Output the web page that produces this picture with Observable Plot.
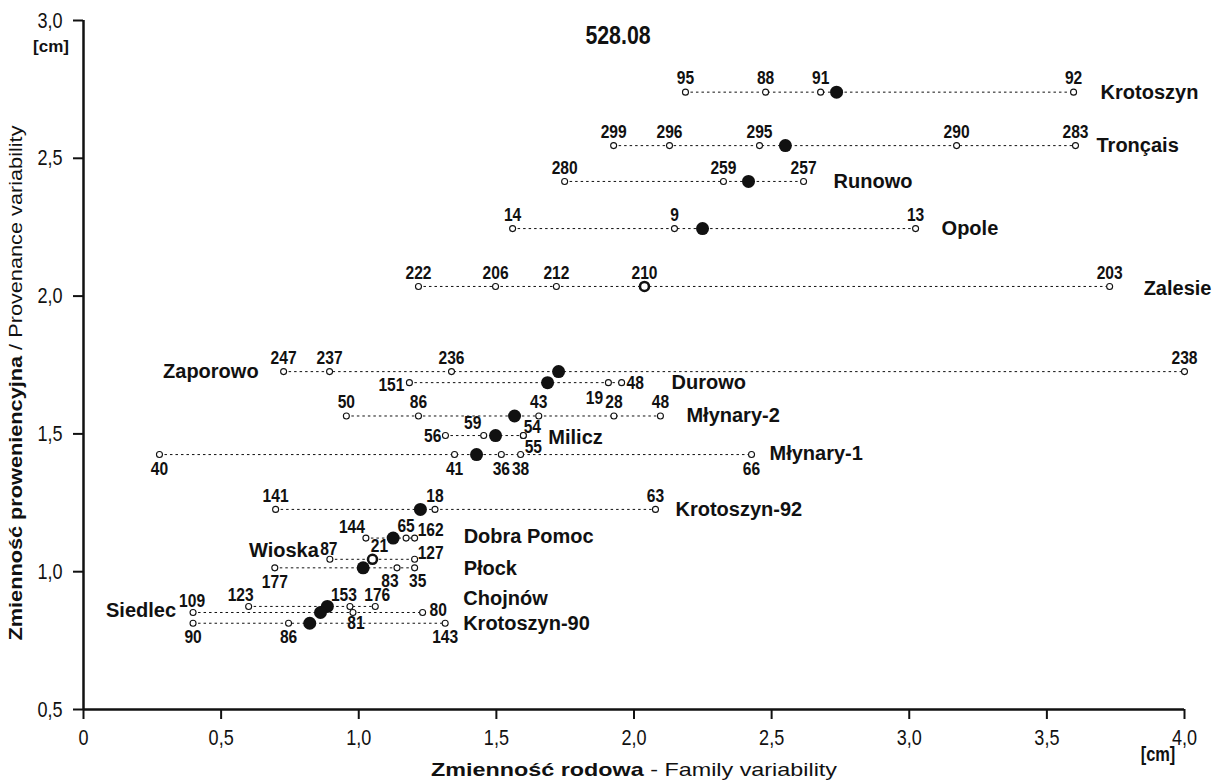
<!DOCTYPE html>
<html>
<head>
<meta charset="utf-8">
<script src="https://cdn.jsdelivr.net/npm/d3@7"></script>
<script src="https://cdn.jsdelivr.net/npm/@observablehq/plot@0.6"></script>
<style>
  html, body { margin: 0; padding: 0; background: #fff; }
</style>
</head>
<body>
<div id="chart"></div>
<script>
// ---------- data ----------
const populations = ["Krotoszyn","Tronçais","Runowo","Opole","Zalesie","Zaporowo","Durowo","Młynary-2","Milicz","Młynary-1","Krotoszyn-92","Dobra Pomoc","Wioska","Płock","Chojnów","Siedlec","Krotoszyn-90"];
const provenanceMean = [2.74,2.546,2.416,2.245,2.035,1.726,1.686,1.565,1.494,1.425,1.226,1.122,1.045,1.014,0.874,0.852,0.813];
const familyMean = [2.736,2.55,2.416,2.249,2.038,1.726,1.686,1.566,1.497,1.428,1.224,1.125,1.05,1.016,0.886,0.861,0.822];
const familyIds = [
  [95,88,91,92],[299,296,295,290,283],[280,259,257],[14,9,13],[222,206,212,210,203],
  [247,237,236,238],[151,19,48],[50,86,43,28,48],[56,59,54,55],[40,41,36,38,66],
  [141,18,63],[144,65,162],[87,21,127],[177,83,35],[123,153,176],[109,81,80],[90,86,143]
];
const familyValues = [
  [2.187,2.478,2.678,3.597],[1.926,2.129,2.456,3.172,3.604],[1.748,2.325,2.616],[1.559,2.147,3.023],[1.217,1.497,1.718,2.038,3.728],
  [0.727,0.894,1.337,4.0],[1.184,1.907,1.955],[0.955,1.217,1.654,1.927,2.096],[1.315,1.454,1.598,1.598],[0.276,1.348,1.518,1.588,2.427],
  [0.698,1.277,2.078],[1.026,1.172,1.203],[0.895,1.05,1.203],[0.695,1.139,1.203],[0.6,0.968,1.06],[0.398,0.979,1.232],[0.398,0.745,1.314]
];
const xTicks = [0,0.5,1,1.5,2,2.5,3,3.5,4];
const yTicks = [0.5,1,1.5,2,2.5,3];
const chartTitle = "528.08";

// ---------- layout (label placement, px) ----------
const popLabelPos = {
  "Krotoszyn":["right",27,0], "Tronçais":["right",21,0], "Runowo":["right",30,0], "Opole":["right",26,0],
  "Zalesie":["right",34,2], "Zaporowo":["left",-25,0], "Durowo":["right",50,0], "Młynary-2":["right",26,0],
  "Milicz":["right",25,2], "Młynary-1":["right",18,-1], "Krotoszyn-92":["right",20,0], "Dobra Pomoc":["right",49,-1],
  "Wioska":["left",-11,-9], "Płock":["right",49,1], "Chojnów":["right",88,-8], "Siedlec":["left",-17,-2],
  "Krotoszyn-90":["right",18,0]
};
const BELOW = [0,14,"middle"];
const famLabelPos = {
  "Durowo:151":[-5,2,"end"], "Durowo:19":[-14,15,"middle"], "Durowo:48":[5,0,"start"],
  "Milicz:56":[-4,0,"end"], "Milicz:59":[-11,-13,"middle"], "Milicz:54":[9,-9,"middle"], "Milicz:55":[10,11,"middle"],
  "Dobra Pomoc:144":[-14,-11,"middle"], "Dobra Pomoc:65":[0,-12,"middle"], "Dobra Pomoc:162":[3,-8,"start"],
  "Wioska:87":[-1,-10,"middle"], "Wioska:21":[7,-13,"middle"], "Wioska:127":[3,-6,"start"],
  "Płock:177":BELOW, "Płock:83":[-7,13,"middle"], "Płock:35":[3,13,"middle"],
  "Chojnów:123":[-8,-12,"middle"], "Chojnów:153":[-6,-12,"middle"], "Chojnów:176":[2,-12,"middle"],
  "Siedlec:109":[-1,-12,"middle"], "Siedlec:81":[3,10,"middle"], "Siedlec:80":[7,-3,"start"]
};
const belowPops = new Set(["Młynary-1","Krotoszyn-90"]);

// ---------- build tables ----------
const rows = populations.map((p, i) => {
  const xs = familyValues[i].concat([familyMean[i]]);
  const ring = familyValues[i].some(v => Math.abs(v - familyMean[i]) < 0.005);
  return {pop: p, y: provenanceMean[i], mx: familyMean[i], min: d3.min(xs), max: d3.max(xs), ring};
});
const fams = [];
populations.forEach((p, i) => {
  familyIds[i].forEach((id, j) => {
    const x = familyValues[i][j];
    fams.push({pop: p, id, x, y: provenanceMean[i], atMean: Math.abs(x - familyMean[i]) < 0.005});
  });
});

const NARROW = "'Arial Narrow', 'Liberation Sans', Arial, sans-serif";
const WIDE = "'Liberation Sans', Arial, sans-serif";
const fmt = d => d === 0 ? "0" : d.toFixed(1).replace(".", ",");

const famLabelMarks = fams.map(f => {
  const key = f.pop + ":" + f.id;
  let pos = famLabelPos[key] || (belowPops.has(f.pop) ? BELOW : [0,-14,"middle"]);
  return Plot.text([f], {x: "x", y: "y", text: d => String(d.id), dx: pos[0], dy: pos[1], textAnchor: pos[2],
    lineAnchor: "middle", fontFamily: NARROW, fontWeight: "bold", fontSize: 19, fill: "#111"});
});
const popLabelMarks = rows.map(r => {
  const pos = popLabelPos[r.pop];
  const left = pos[0] === "left";
  return Plot.text([r], {x: left ? "min" : "max", y: "y", text: "pop", dx: pos[1], dy: pos[2],
    textAnchor: left ? "end" : "start", lineAnchor: "middle", fontFamily: WIDE, fontWeight: "bold", fontSize: 20, fill: "#111"});
});

const svg = Plot.plot({
  width: 1219, height: 782,
  marginLeft: 83, marginRight: 35, marginTop: 20, marginBottom: 73,
  style: {fontFamily: NARROW, fontSize: "21px", color: "#111", background: "white", overflow: "visible"},
  x: {domain: [0, 4]},
  y: {domain: [0.5, 3]},
  marks: [
    Plot.axisX({ticks: xTicks, tickFormat: () => "", tickSize: 10, strokeWidth: 2, label: null}),
    Plot.axisY({ticks: yTicks, tickFormat: () => "", tickSize: 10, strokeWidth: 2, label: null}),
    Plot.text(xTicks, {x: d => d, frameAnchor: "bottom", dy: 28, text: fmt, lineAnchor: "middle",
      fontFamily: NARROW, fontSize: 22, fill: "#111"}),
    Plot.text(yTicks, {y: d => d, frameAnchor: "left", dx: -21, text: fmt, textAnchor: "end", lineAnchor: "middle",
      fontFamily: NARROW, fontSize: 22, fill: "#111"}),
    Plot.ruleX([0], {strokeWidth: 2.5}),
    Plot.ruleY([0.5], {x1: 0, x2: 4, strokeWidth: 2.5}),
    Plot.ruleY(rows, {y: "y", x1: "min", x2: "max", strokeWidth: 1, strokeDasharray: "2.5,3", stroke: "#111"}),
    Plot.dot(fams.filter(f => !f.atMean), {x: "x", y: "y", r: 3, fill: "white", stroke: "#111", strokeWidth: 1.1}),
    Plot.dot(rows.filter(r => !r.ring), {x: "mx", y: "y", r: 6.5, fill: "#111"}),
    Plot.dot(rows.filter(r => r.ring), {x: "mx", y: "y", r: 4.5, fill: "white", stroke: "#111", strokeWidth: 2.6}),
    ...famLabelMarks,
    ...popLabelMarks
  ]
});

const s = d3.select(svg);
s.append("text").attr("x", 618).attr("y", 37).attr("text-anchor", "middle").attr("dominant-baseline", "middle")
  .attr("font-family", NARROW).attr("font-weight", "bold").attr("font-size", 26).attr("fill", "#111").text(chartTitle);
s.append("text").attr("x", 51).attr("y", 48).attr("text-anchor", "middle").attr("dominant-baseline", "middle")
  .attr("font-family", WIDE).attr("font-weight", "bold").attr("font-size", 17).attr("fill", "#111").text("[cm]");
s.append("text").attr("x", 1158).attr("y", 756).attr("text-anchor", "middle").attr("dominant-baseline", "middle")
  .attr("font-family", NARROW).attr("font-weight", "bold").attr("font-size", 20).attr("fill", "#111").text("[cm]");
const xt = s.append("text").attr("x", 634).attr("y", 771).attr("text-anchor", "middle").attr("dominant-baseline", "middle")
  .attr("font-family", NARROW).attr("font-size", 19).attr("fill", "#111")
  .attr("textLength", 406).attr("lengthAdjust", "spacingAndGlyphs");
xt.append("tspan").attr("font-weight", "bold").text("Zmienność rodowa");
xt.append("tspan").text(" - Family variability");
const yt = s.append("text").attr("transform", "translate(17,383) rotate(-90)").attr("text-anchor", "middle").attr("dominant-baseline", "middle")
  .attr("font-family", NARROW).attr("font-size", 19).attr("fill", "#111")
  .attr("textLength", 515).attr("lengthAdjust", "spacingAndGlyphs");
yt.append("tspan").attr("font-weight", "bold").text("Zmienność proweniencyjna");
yt.append("tspan").text(" / Provenance variability");

document.getElementById("chart").appendChild(svg);

// emulate a condensed face: compress glyphs of texts set in the "narrow" family
svg.querySelectorAll("text").forEach(t => {
  if (t.hasAttribute("textLength")) return;
  const ff = getComputedStyle(t).fontFamily;
  if (ff.includes("Arial Narrow")) {
    const len = t.getComputedTextLength();
    if (len > 0) {
      t.setAttribute("textLength", (len * 0.82).toFixed(2));
      t.setAttribute("lengthAdjust", "spacingAndGlyphs");
    }
  }
});
</script>
</body>
</html>
